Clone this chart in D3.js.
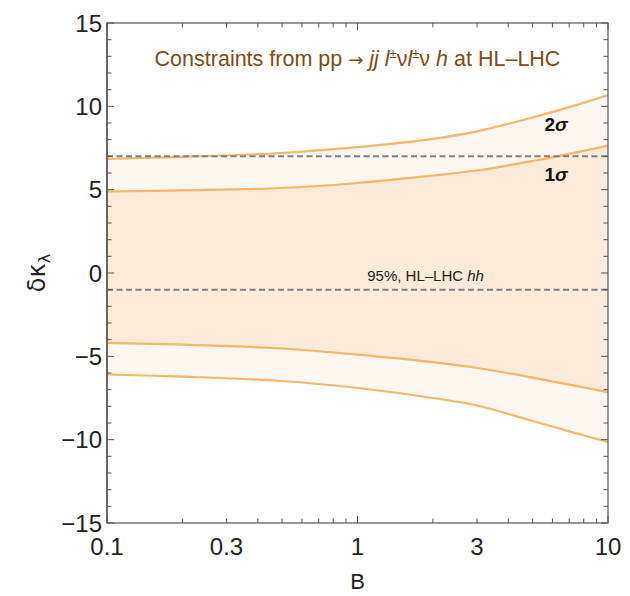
<!DOCTYPE html>
<html>
<head>
<meta charset="utf-8">
<script src="https://cdn.jsdelivr.net/npm/d3@7"></script>
<style>
body { margin: 0; background: #fff; }
svg text { font-family: "Liberation Sans", Arial, sans-serif; }
</style>
</head>
<body>
<div id="wrapper"></div>
<script>
// data
const bValues = [0.1, 0.2, 0.5, 1, 2, 3, 5, 7, 10];
const upper2 = [6.84, 6.97, 7.2, 7.55, 8.05, 8.5, 9.33, 9.95, 10.68];
const upper1 = [4.89, 4.96, 5.1, 5.4, 5.85, 6.15, 6.72, 7.15, 7.64];
const lower1 = [-4.19, -4.3, -4.53, -4.9, -5.35, -5.7, -6.28, -6.7, -7.15];
const lower2 = [-6.09, -6.22, -6.48, -6.9, -7.5, -7.95, -8.88, -9.5, -10.14];
const dashedLevels = [7, -1];
const xTickLabels = [0.1, 0.3, 1, 3, 10];
const yTickLabels = [-15, -10, -5, 0, 5, 10, 15];

function draw() {
	const dims = {
		width: 630, height: 596,
		margin: { top: 23, right: 22, bottom: 73, left: 107 }
	};
	dims.bw = dims.width - dims.margin.left - dims.margin.right;
	dims.bh = dims.height - dims.margin.top - dims.margin.bottom;

	const svg = d3.select("#wrapper").append("svg")
		.attr("width", dims.width)
		.attr("height", dims.height);
	const g = svg.append("g")
		.attr("transform", `translate(${dims.margin.left},${dims.margin.top})`);

	const x = d3.scaleLog().domain([0.1, 10]).range([0, dims.bw]);
	const y = d3.scaleLinear().domain([-15, 15]).range([dims.bh, 0]);

	const rows = bValues.map((b, i) => ({ b, u2: upper2[i], u1: upper1[i], l1: lower1[i], l2: lower2[i] }));
	const curve = d3.curveCatmullRom;

	g.append("defs").append("clipPath").attr("id", "clip")
		.append("rect").attr("width", dims.bw).attr("height", dims.bh);
	const plot = g.append("g").attr("clip-path", "url(#clip)");

	// 2 sigma band, then 1 sigma band on top
	plot.append("path").datum(rows)
		.attr("fill", "#fef7f0")
		.attr("d", d3.area().x(d => x(d.b)).y0(d => y(d.l2)).y1(d => y(d.u2)).curve(curve));
	plot.append("path").datum(rows)
		.attr("fill", "#fcebd8")
		.attr("d", d3.area().x(d => x(d.b)).y0(d => y(d.l1)).y1(d => y(d.u1)).curve(curve));

	["u2", "u1", "l1", "l2"].forEach(k => {
		plot.append("path").datum(rows)
			.attr("fill", "none")
			.attr("stroke", "#f8b568")
			.attr("stroke-width", 2.2)
			.attr("d", d3.line().x(d => x(d.b)).y(d => y(d[k])).curve(curve));
	});

	plot.selectAll("line.dash").data(dashedLevels).enter().append("line")
		.attr("class", "dash")
		.attr("x1", 0).attr("x2", dims.bw)
		.attr("y1", d => y(d)).attr("y2", d => y(d))
		.attr("stroke", "#808080")
		.attr("stroke-width", 2)
		.attr("stroke-dasharray", "6,3.5");

	// frame with inward ticks
	const frameColor = "#555";
	const minorX = [];
	[0.1, 1].forEach(dec => { for (let k = 2; k <= 9; k++) minorX.push(dec * k); });
	const majorX = [0.1, 1, 10];
	const yMajor = yTickLabels;
	const yMinor = d3.range(-15, 16, 1).filter(v => v % 5 !== 0);

	g.append("rect")
		.attr("width", dims.bw).attr("height", dims.bh)
		.attr("fill", "none").attr("stroke", frameColor).attr("stroke-width", 1.2);
	g.append("line").attr("x1", 0).attr("x2", 0).attr("y1", 0).attr("y2", dims.bh)
		.attr("stroke", "#666").attr("stroke-width", 2);

	const ticks = g.append("g").attr("stroke", frameColor).attr("stroke-width", 1);
	function xTicks(vals, len) {
		vals.forEach(v => {
			ticks.append("line").attr("x1", x(v)).attr("x2", x(v)).attr("y1", dims.bh).attr("y2", dims.bh - len);
			ticks.append("line").attr("x1", x(v)).attr("x2", x(v)).attr("y1", 0).attr("y2", len);
		});
	}
	function yTicks(vals, len) {
		vals.forEach(v => {
			ticks.append("line").attr("x1", 0).attr("x2", len).attr("y1", y(v)).attr("y2", y(v));
			ticks.append("line").attr("x1", dims.bw).attr("x2", dims.bw - len).attr("y1", y(v)).attr("y2", y(v));
		});
	}
	xTicks(majorX, 7);
	xTicks(minorX, 4.5);
	yTicks(yMajor, 7);
	yTicks(yMinor, 4.5);

	// tick labels
	g.selectAll("text.xl").data(xTickLabels).enter().append("text")
		.attr("class", "xl")
		.attr("x", d => x(d)).attr("y", dims.bh + 32)
		.attr("text-anchor", "middle")
		.attr("font-size", 24).attr("fill", "#222")
		.text(d => d);
	g.selectAll("text.yl").data(yTickLabels).enter().append("text")
		.attr("class", "yl")
		.attr("x", -5).attr("y", d => y(d) + 8.5)
		.attr("text-anchor", "end")
		.attr("font-size", 24).attr("fill", "#222")
		.text(d => d < 0 ? "\u2212" + Math.abs(d) : d);

	// axis titles
	g.append("text")
		.attr("x", x(1)).attr("y", dims.bh + 66)
		.attr("text-anchor", "middle").attr("font-size", 22).attr("fill", "#222")
		.text("B");
	const yl = g.append("text")
		.attr("transform", `translate(${-62},${y(0)}) rotate(-90)`)
		.attr("text-anchor", "middle").attr("font-size", 24).attr("fill", "#222")
		.style("font-family", "'DejaVu Sans', sans-serif");
	yl.append("tspan").text("\u03b4\u03ba");
	yl.append("tspan").attr("font-size", 16).attr("dy", 5).text("\u03bb");

	// title inside the frame
	const t = g.append("text")
		.attr("x", x(1)).attr("y", y(12.45))
		.attr("text-anchor", "middle").attr("font-size", 21.5).attr("fill", "#7d4c14");
	t.append("tspan").text("Constraints from pp ");
	t.append("tspan").style("font-family", "'DejaVu Sans', sans-serif").attr("font-size", 18).text("\u2192");
	t.append("tspan").attr("font-style", "italic").text(" jj l");
	t.append("tspan").attr("font-size", 13).attr("dy", -8).text("\u00b1");
	t.append("tspan").attr("dy", 8).text("\u03bd");
	t.append("tspan").attr("font-style", "italic").text("l");
	t.append("tspan").attr("font-size", 13).attr("dy", -8).text("\u00b1");
	t.append("tspan").attr("dy", 8).text("\u03bd ");
	t.append("tspan").attr("font-style", "italic").text("h");
	t.append("tspan").text(" at HL\u2013LHC");

	// sigma labels
	[["2", 8.5], ["1", 5.5]].forEach(([n, v]) => {
		const s = g.append("text")
			.attr("x", x(6.2)).attr("y", y(v))
			.attr("text-anchor", "middle").attr("font-size", 19)
			.attr("font-weight", "bold").attr("fill", "#111");
		s.append("tspan").text(n);
		s.append("tspan").attr("font-style", "italic").text("\u03c3");
	});

	const h = g.append("text")
		.attr("x", x(1.87)).attr("y", y(-0.5))
		.attr("text-anchor", "middle").attr("font-size", 15).attr("fill", "#222");
	h.append("tspan").text("95%, HL\u2013LHC ");
	h.append("tspan").attr("font-style", "italic").text("hh");
}

draw();
</script>
</body>
</html>
